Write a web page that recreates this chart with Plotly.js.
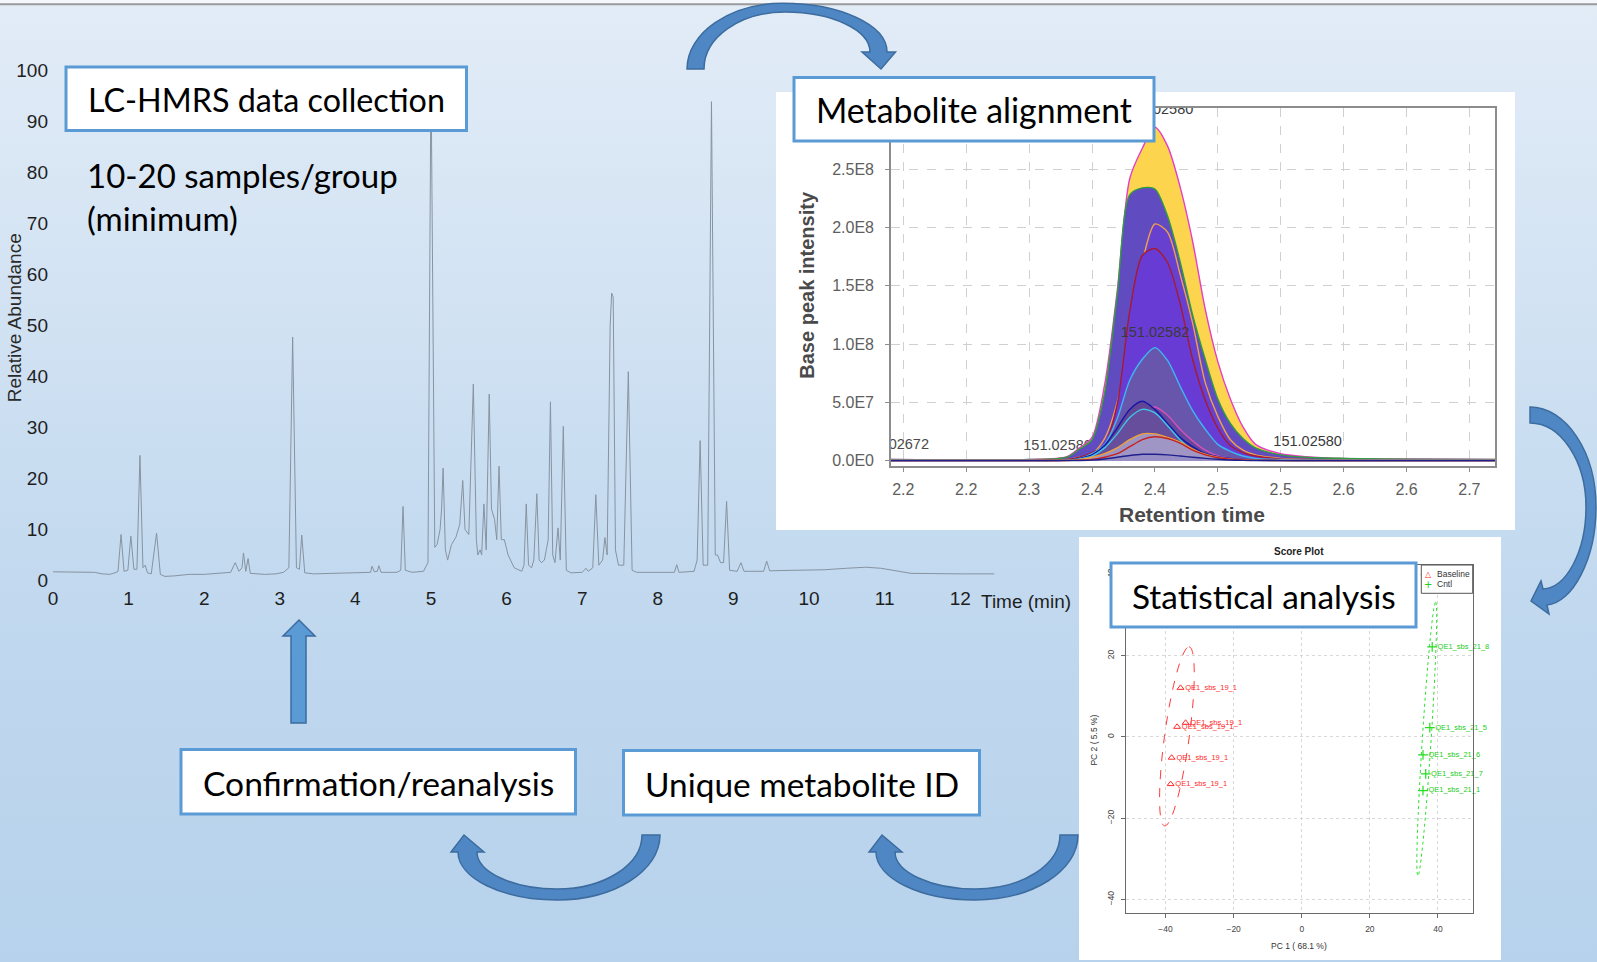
<!DOCTYPE html>
<html>
<head>
<meta charset="utf-8">
<script src="https://cdn.plot.ly/plotly-3.0.1.min.js"></script>
<style>
  html, body { margin: 0; padding: 0; overflow: hidden; }
  body { width: 1597px; height: 962px;
    background: linear-gradient(to bottom, #e2ecf7 0%, #d3e3f3 30%, #c2d9ef 60%, #b7d2ec 100%); }
  #chart { width: 1597px; height: 962px; }
</style>
</head>
<body>
<div id="chart"></div>
<script>
// ---------------- DATA ----------------
// Chromatogram (LC-HRMS total ion current)
const chromTime = [0.00,0.30,0.55,0.65,0.75,0.82,0.86,0.90,0.94,0.99,1.03,1.07,1.11,1.15,1.19,1.22,1.25,1.30,1.37,1.42,1.48,1.60,1.80,2.00,2.20,2.35,2.41,2.46,2.50,2.52,2.55,2.58,2.61,2.80,2.95,3.05,3.12,3.17,3.22,3.26,3.29,3.33,3.45,3.80,4.10,4.20,4.22,4.25,4.29,4.31,4.34,4.55,4.60,4.63,4.66,4.75,4.90,4.96,5.00,5.05,5.08,5.12,5.14,5.16,5.19,5.22,5.27,5.33,5.38,5.42,5.45,5.50,5.56,5.60,5.62,5.65,5.67,5.70,5.73,5.77,5.80,5.84,5.87,5.90,5.93,5.97,6.02,6.10,6.20,6.23,6.26,6.29,6.33,6.36,6.40,6.43,6.46,6.50,6.55,6.58,6.61,6.64,6.68,6.71,6.75,6.79,6.85,7.00,7.05,7.08,7.14,7.18,7.22,7.27,7.30,7.33,7.37,7.39,7.41,7.44,7.48,7.55,7.61,7.66,7.72,8.00,8.22,8.25,8.28,8.48,8.52,8.56,8.60,8.66,8.71,8.76,8.79,8.83,8.87,8.91,8.95,9.05,9.10,9.14,9.30,9.40,9.44,9.48,9.80,10.20,10.50,10.75,10.95,11.20,11.35,12.00,12.45];
const chromAbund = [1.7,1.6,1.6,1.3,1.2,1.5,1.8,9.0,1.8,2.0,8.7,2.2,2.2,24.5,2.5,3.0,1.5,1.3,9.3,1.2,0.8,0.9,1.2,1.2,1.5,1.6,3.5,1.8,2.5,5.4,1.8,4.3,1.4,1.2,1.3,1.6,2.5,47.7,2.5,2.2,8.9,1.5,1.3,1.4,1.5,1.6,2.8,1.7,1.8,2.9,1.6,1.6,2.0,14.5,2.0,1.6,1.8,3.5,100,6.5,7.0,10,14,22,6.0,4.0,7.0,8.5,11,19.6,10,9,38.5,8,5,6,5,15,6,36.5,14,12,8,22.4,8,8,5,2.5,1.8,3,15,3,2.5,4,17,4,3.5,4,8,35,5,3.5,10.3,4,30.2,2,1.5,1.6,2.4,1.8,2.5,16.8,3,4,8.4,5,50,56.3,55.5,6,3,3,40.9,2,1.6,1.6,1.6,3.1,1.6,1.8,4,27.4,3,3,93.8,5,5,3.5,3.5,15.5,2,1.8,3.5,1.8,1.8,1.8,3.8,1.9,2.0,2.1,2.4,2.6,2.4,1.8,1.4,1.3,1.3];
const chromTickVals = [0,1,2,3,4,5,6,7,8,9,10,11,12];
const abundTickVals = [0,10,20,30,40,50,60,70,80,90,100];

// Metabolite alignment (extracted ion peaks, m/z 151.0258)
const rtTimes = [2.19,2.30,2.33,2.34,2.35,2.36,2.37,2.38,2.39,2.40,2.41,2.42,2.43,2.44,2.45,2.46,2.47,2.48,2.50,2.52,2.55,2.60,2.6703];
const peakMagenta = [0.1e7,0.1e7,0.35e7,1.1e7,2.0e7,6.5e7,14.5e7,24.2e7,26.8e7,28.6e7,27.0e7,23.5e7,18.8e7,13.0e7,8.5e7,5.3e7,2.9e7,1.4e7,0.6e7,0.35e7,0.2e7,0.15e7,0.1e7];
const peakGreen   = [0.1e7,0.1e7,0.3e7,1.0e7,1.8e7,5.8e7,14.2e7,22.8e7,23.4e7,23.3e7,21.0e7,17.1e7,12.5e7,8.7e7,5.3e7,3.2e7,1.9e7,1.1e7,0.5e7,0.3e7,0.2e7,0.12e7,0.1e7];
const peakOrange  = [0.05e7,0.05e7,0.1e7,0.3e7,0.6e7,1.9e7,5.0e7,10.8e7,17.0e7,20.3e7,19.6e7,16.0e7,11.8e7,6.7e7,3.8e7,1.8e7,0.9e7,0.5e7,0.2e7,0.1e7,0.05e7,0.05e7,0.05e7];
const peakDarkRed = [0.05e7,0.05e7,0.1e7,0.3e7,0.7e7,1.3e7,4.8e7,12.8e7,17.6e7,18.2e7,17.0e7,13.5e7,8.7e7,5.2e7,2.8e7,1.3e7,0.7e7,0.4e7,0.15e7,0.1e7,0.05e7,0.05e7,0.05e7];
const peakCyan    = [0.02e7,0.02e7,0.05e7,0.2e7,0.6e7,1.4e7,3.6e7,6.9e7,8.7e7,9.7e7,8.6e7,6.4e7,4.3e7,2.7e7,1.4e7,0.8e7,0.4e7,0.2e7,0.1e7,0.05e7,0.02e7,0.02e7,0.02e7];
const peakMagenta2= [0.02e7,0.02e7,0.03e7,0.1e7,0.3e7,0.7e7,1.6e7,3.0e7,4.2e7,4.6e7,3.9e7,2.7e7,1.7e7,0.9e7,0.4e7,0.2e7,0.1e7,0.05e7,0.03e7,0.02e7,0.02e7,0.02e7,0.02e7];
const peakBlue    = [0.02e7,0.02e7,0.05e7,0.2e7,0.5e7,1.3e7,2.8e7,4.4e7,5.1e7,4.4e7,3.2e7,2.0e7,1.2e7,0.6e7,0.35e7,0.2e7,0.1e7,0.05e7,0.03e7,0.02e7,0.02e7,0.02e7,0.02e7];
const peakCyan2   = [0.02e7,0.02e7,0.04e7,0.15e7,0.4e7,1.1e7,2.3e7,3.7e7,4.4e7,4.1e7,3.0e7,1.8e7,0.9e7,0.4e7,0.2e7,0.1e7,0.05e7,0.03e7,0.02e7,0.02e7,0.02e7,0.02e7,0.02e7];
const peakOrange2 = [0.02e7,0.02e7,0.03e7,0.1e7,0.3e7,0.6e7,1.1e7,1.8e7,2.3e7,2.3e7,2.0e7,1.6e7,1.0e7,0.55e7,0.3e7,0.15e7,0.08e7,0.04e7,0.02e7,0.02e7,0.02e7,0.02e7,0.02e7];
const peakRed2    = [0.01e7,0.01e7,0.02e7,0.05e7,0.1e7,0.3e7,0.6e7,1.2e7,1.8e7,2.05e7,1.9e7,1.5e7,0.9e7,0.5e7,0.25e7,0.12e7,0.06e7,0.03e7,0.01e7,0.01e7,0.01e7,0.01e7,0.01e7];
const peakNavy    = [0.01e7,0.01e7,0.01e7,0.02e7,0.05e7,0.15e7,0.3e7,0.45e7,0.55e7,0.55e7,0.5e7,0.4e7,0.3e7,0.2e7,0.12e7,0.06e7,0.03e7,0.02e7,0.01e7,0.01e7,0.01e7,0.01e7,0.01e7];
const rtTickVals = [2.20,2.25,2.30,2.35,2.40,2.45,2.50,2.55,2.60,2.65];
const rtTickText = ['2.2','2.2','2.3','2.4','2.4','2.5','2.5','2.6','2.6','2.7'];
const intensityTickVals = [0,5e7,1e8,1.5e8,2e8,2.5e8];
const intensityTickText = ['0.0E0','5.0E7','1.0E8','1.5E8','2.0E8','2.5E8'];
const mzUnderText = ['151.02672','151.02580'];
const mzUnderRT   = [2.2204, 2.2954];
const mzUnderInt  = [1.29e7, 1.25e7];
const mzOverText  = ['151.02582','151.02580','151.02580'];
const mzOverRT    = [2.4001, 2.5214, 2.4033];
const mzOverInt   = [1.093e8, 1.6e7, 3.008e8];

// Score plot (PCA)
const baselinePC1 = [-35.6,-34.1,-36.6,-38.2,-38.5];
const baselinePC2 = [12.1,3.5,2.5,-5.1,-11.6];
const baselineLabels = ['QE1_sbs_19_1','QE1_sbs_19_1','QE1_sbs_19_1','QE1_sbs_19_1','QE1_sbs_19_1'];
const cntlPC1 = [38.3,37.6,35.6,36.4,35.6];
const cntlPC2 = [22.2,2.3,-4.4,-9.1,-13.2];
const cntlLabels = ['QE1_sbs_21_8','QE1_sbs_21_5','QE1_sbs_21_6','QE1_sbs_21_7','QE1_sbs_21_1'];
const pcTickX = [-40,-20,0,20,40];
const pcTickY = [-40,-20,0,20,40];
// confidence ellipses: centre and two conjugate semi-axes, in PC units
const baselineEllipse = {c:[-36.65,0.15], u:[3.55,22.05], v:[3.65,0]};
const cntlEllipse     = {c:[36.7,-0.5],  u:[2.6,33.7],   v:[1.3,0]};

// ---------------- HELPERS ----------------
const W = 1597, H = 962;
const PX = x => x / W;
const PY = y => 1 - y / H;
function pt(p) { return PX(p[0]).toFixed(5) + ',' + PY(p[1]).toFixed(5); }
function pathPx(segs) {
  return segs.map(s => s[0] + s.slice(1).map(pt).join(' ')).join(' ');
}
function ellipsePath(e) {
  const k = 0.5523, c = e.c, u = e.u, v = e.v;
  const P = (a, b) => [c[0] + a*u[0] + b*v[0], c[1] + a*u[1] + b*v[1]];
  const f = p => p[0].toFixed(3) + ',' + p[1].toFixed(3);
  return 'M' + f(P(1,0)) +
    ' C' + f(P(1,k)) + ' ' + f(P(k,1)) + ' ' + f(P(0,1)) +
    ' C' + f(P(-k,1)) + ' ' + f(P(-1,k)) + ' ' + f(P(-1,0)) +
    ' C' + f(P(-1,-k)) + ' ' + f(P(-k,-1)) + ' ' + f(P(0,-1)) +
    ' C' + f(P(k,-1)) + ' ' + f(P(1,-k)) + ' ' + f(P(1,0)) + ' Z';
}

// ---------------- TRACES ----------------
const traces = [];
traces.push({x: chromTime, y: chromAbund, xaxis:'x', yaxis:'y', mode:'lines',
  line:{color:'#8793a0', width:1}, hoverinfo:'skip'});

traces.push({x: mzUnderRT, y: mzUnderInt, text: mzUnderText, xaxis:'x2', yaxis:'y2',
  mode:'text', textposition:['middle left','middle right'], cliponaxis:true,
  textfont:{family:'Liberation Sans, Arial', size:14.5, color:'#4a4a4a'}, hoverinfo:'skip'});

const peakSeries = [
  [peakMagenta,  '#e43fc6', '#fcd44e'],
  [peakGreen,    '#2f9e3c', 'rgb(96,76,192)'],
  [peakOrange,   '#f0a04a', 'rgb(104,64,208)'],
  [peakDarkRed,  '#a51a35', 'rgb(104,60,212)'],
  [peakCyan,     '#3cb8f2', 'rgb(104,86,172)'],
  [peakMagenta2, '#d452b8', 'rgb(100,72,158)'],
  [peakBlue,     '#1616a8', 'rgb(98,70,150)'],
  [peakCyan2,    '#3ec6ea', 'rgb(102,78,156)'],
  [peakOrange2,  '#f2a236', 'rgb(158,148,196)'],
  [peakRed2,     '#c42222', 'rgb(160,150,198)'],
  [peakNavy,     '#20208c', 'rgb(150,142,196)']
];
peakSeries.forEach(s => traces.push({x: rtTimes, y: s[0], xaxis:'x2', yaxis:'y2',
  mode:'lines', fill:'tozeroy', fillcolor:s[2], line:{color:s[1], width:1.4, shape:'spline', smoothing:0.8},
  hoverinfo:'skip'}));

traces.push({x: mzOverRT, y: mzOverInt, text: mzOverText, xaxis:'x2', yaxis:'y2',
  mode:'text', textposition:'middle center', cliponaxis:true,
  textfont:{family:'Liberation Sans, Arial', size:14.5, color:'#3a3a3a'}, hoverinfo:'skip'});

traces.push({x: baselinePC1, y: baselinePC2, text: baselineLabels, xaxis:'x3', yaxis:'y3',
  mode:'markers+text', textposition:'middle right', cliponaxis:false,
  marker:{symbol:'triangle-up-open', size:6, color:'#ff2a2a', line:{width:1, color:'#ff2a2a'}},
  textfont:{family:'Liberation Sans, Arial', size:7.5, color:'#ff2a2a'}, hoverinfo:'skip'});
traces.push({x: cntlPC1, y: cntlPC2, text: cntlLabels, xaxis:'x3', yaxis:'y3',
  mode:'markers+text', textposition:'middle right', cliponaxis:false,
  marker:{symbol:'cross-thin-open', size:7, color:'#22dd22', line:{width:1.2, color:'#22dd22'}},
  textfont:{family:'Liberation Sans, Arial', size:7.5, color:'#22cc22'}, hoverinfo:'skip'});

// ---------------- SHAPES ----------------
const arrowFill = '#4f87c5', arrowLine = '#3d6c9f';
const shapes = [];
// white panels
shapes.push({type:'rect', xref:'paper', yref:'paper', layer:'below', x0:PX(776), x1:PX(1515), y0:PY(530), y1:PY(92), fillcolor:'#ffffff', line:{width:0}});
shapes.push({type:'rect', xref:'paper', yref:'paper', layer:'below', x0:PX(1079), x1:PX(1501), y0:PY(960), y1:PY(537), fillcolor:'#ffffff', line:{width:0}});
// top strip & grey rule
shapes.push({type:'rect', xref:'paper', yref:'paper', layer:'below', x0:0, x1:1, y0:PY(3), y1:1, fillcolor:'#f4f7fb', line:{width:0}});
shapes.push({type:'line', xref:'paper', yref:'paper', layer:'above', x0:0, x1:1, y0:PY(4.3), y1:PY(4.3), line:{color:'#9b9b9b', width:2}});
// ellipses
shapes.push({type:'path', xref:'x3', yref:'y3', path: ellipsePath(baselineEllipse), line:{color:'#ff3a3a', width:1, dash:'dash'}});
shapes.push({type:'path', xref:'x3', yref:'y3', path: ellipsePath(cntlEllipse), line:{color:'#2ee02e', width:1, dash:'dot'}});
// score legend
shapes.push({type:'rect', xref:'paper', yref:'paper', layer:'above', x0:PX(1421.3), x1:PX(1472.7), y0:PY(593.3), y1:PY(565), fillcolor:'#ffffff', line:{color:'#555555', width:1}});

// arrows
const arrowPaths = [
  // top curved arrow
  [['M',[687,69]],['C',[687,33],[730,3.3],[783,3.3]],['C',[840,3.3],[887,25],[887,52]],
   ['L',[895.5,52]],['L',[881,69]],['L',[862,52]],['L',[870,52]],
   ['C',[870,30],[832,12],[785,12]],['C',[740,12],[704,37.5],[704,69]],['Z']],
  // right curved arrow
  [['M',[1530,407]],['C',[1566,407],[1596,452],[1596,507]],['C',[1596,560],[1572,603],[1547,605]],
   ['L',[1549,614]],['L',[1531,601]],['L',[1541,581]],['L',[1543,589]],
   ['C',[1566,588],[1586,552],[1586,507]],['C',[1586,461],[1561,423],[1530,423]],['Z']],
  // bottom arrow 1
  [['M',[660,835]],['C',[660,871],[614,900],[557,900]],['C',[502,900],[458,878],[458,852]],
   ['L',[451,852]],['L',[464,835]],['L',[484,852]],['L',[477,852]],
   ['C',[477,872],[513,889],[557,889]],['C',[604,889],[642,865],[642,835]],['Z']],
  // bottom arrow 2
  [['M',[1078,835]],['C',[1078,871],[1032,900],[975,900]],['C',[920,900],[876,878],[876,852]],
   ['L',[869,852]],['L',[882,835]],['L',[902,852]],['L',[895,852]],
   ['C',[895,872],[931,889],[975,889]],['C',[1022,889],[1060,865],[1060,835]],['Z']],
  // straight up arrow
  [['M',[291,723]],['L',[291,636]],['L',[283,636]],['L',[299,620]],['L',[315,636]],['L',[306,636]],['L',[306,723]],['Z']]
];
arrowPaths.forEach((p, i) => shapes.push({type:'path', xref:'paper', yref:'paper', layer:'above',
  path: pathPx(p), fillcolor: i === 4 ? '#5b9bd5' : arrowFill, line:{color:arrowLine, width:1.5}}));

// text boxes
const boxes = [
  {x0:66, y0:67, x1:466.5, y1:130.4, text:'LC-HMRS data collection', size:32.3},
  {x0:794, y0:77.5, x1:1154, y1:141, text:'Metabolite alignment', size:33.8},
  {x0:1111, y0:563, x1:1416, y1:627, text:'Statistical analysis', size:33.4},
  {x0:181, y0:749.5, x1:575.5, y1:814, text:'Confirmation/reanalysis', size:33.6},
  {x0:623.5, y0:750.5, x1:979.5, y1:815, text:'Unique metabolite ID', size:33.4}
];
boxes.forEach(b => shapes.push({type:'rect', xref:'paper', yref:'paper', layer:'above',
  x0:PX(b.x0), x1:PX(b.x1), y0:PY(b.y1), y1:PY(b.y0), fillcolor:'#ffffff', line:{color:'#5b9bd5', width:3}}));

// ---------------- ANNOTATIONS ----------------
const ann = [];
function A(x, y, text, opts) {
  ann.push(Object.assign({xref:'paper', yref:'paper', x:PX(x), y:PY(y), text:text, showarrow:false,
    xanchor:'center', yanchor:'middle'}, opts || {}));
}
const boxFont = s => ({family:'Lato, Carlito, Open Sans', size:s, color:'#000000'});
boxes.forEach(b => A((b.x0+b.x1)/2, (b.y0+b.y1)/2 + 1, b.text, {font: boxFont(b.size)}));
A(84.5, 175, '10-20 samples/group', {xanchor:'left', font: boxFont(33)});
A(84.5, 218, '(minimum)', {xanchor:'left', font: boxFont(33)});
A(14.3, 318, 'Relative Abundance', {textangle:-90, font:{family:'Liberation Sans, Arial', size:19, color:'#2a2a2a'}});
A(1026, 601, 'Time (min)', {font:{family:'Liberation Sans, Arial', size:19, color:'#1e1e1e'}});
A(806.7, 285, 'Base peak intensity', {textangle:-90, font:{family:'Liberation Sans, Arial', size:20, color:'#4a4a4a', weight:'bold'}});
A(1191.6, 514, 'Retention time', {font:{family:'Liberation Sans, Arial', size:21, color:'#4a4a4a', weight:'bold'}});
A(1299, 551.7, '<b>Score Plot</b>', {font:{family:'Liberation Sans, Arial', size:10, color:'#222'}});
A(1299, 946, 'PC 1 ( 68.1 %)', {font:{family:'Liberation Sans, Arial', size:8.5, color:'#333'}});
A(1093.6, 740, 'PC 2 ( 5.5 %)', {textangle:-90, font:{family:'Liberation Sans, Arial', size:8.5, color:'#333'}});
A(1428.2, 574.3, '△', {font:{family:'DejaVu Sans', size:8, color:'#ff2a2a'}});
A(1435, 574.3, 'Baseline', {xanchor:'left', font:{family:'Liberation Sans, Arial', size:8.5, color:'#333'}});
A(1428.2, 584.3, '+', {font:{family:'DejaVu Sans', size:10, color:'#22cc22'}});
A(1435, 584.3, 'Cntl', {xanchor:'left', font:{family:'Liberation Sans, Arial', size:8.5, color:'#333'}});

// ---------------- LAYOUT ----------------
const chromFont = {family:'Liberation Sans, Arial', size:19, color:'#1e1e1e'};
const alignFont = {family:'Liberation Sans, Arial', size:16, color:'#5e5e5e'};
const pcaFont = {family:'Liberation Sans, Arial', size:8.5, color:'#444'};
const layout = {
  width: W, height: H, margin:{l:0, r:0, t:0, b:0, pad:0},
  paper_bgcolor:'rgba(0,0,0,0)', plot_bgcolor:'rgba(0,0,0,0)',
  showlegend:false,
  font:{family:'Liberation Sans, Arial'},
  xaxis:{domain:[PX(53), PX(998)], range:[0,12.5], anchor:'y', tickvals: chromTickVals,
    showgrid:false, zeroline:false, showline:false, ticks:'', tickfont: chromFont, ticklabelstandoff:4},
  yaxis:{domain:[PY(580.5), PY(70)], range:[0,100], anchor:'x', tickvals: abundTickVals,
    showgrid:false, zeroline:false, showline:false, ticks:'', tickfont: chromFont, ticklabelstandoff:4},
  xaxis2:{domain:[PX(890.7), PX(1495)], range:[2.18998, 2.67035], anchor:'y2',
    tickvals: rtTickVals, ticktext: rtTickText, showgrid:true, gridcolor:'#d0d0d0', griddash:'dash', gridwidth:1,
    zeroline:false, showline:true, mirror:true, linecolor:'#8c8c8c', linewidth:1.5,
    ticks:'outside', ticklen:4, tickcolor:'#8c8c8c', tickfont: alignFont, ticklabelstandoff:4},
  yaxis2:{domain:[PY(466), PY(107.7)], range:[-4.545e6, 3.0274e8], anchor:'x2',
    tickvals: intensityTickVals, ticktext: intensityTickText, showgrid:true, gridcolor:'#d0d0d0', griddash:'dash', gridwidth:1,
    zeroline:false, showline:true, mirror:true, linecolor:'#8c8c8c', linewidth:1.5,
    ticks:'outside', ticklen:4, tickcolor:'#8c8c8c', tickfont: alignFont, ticklabelstandoff:8},
  xaxis3:{domain:[PX(1126), PX(1473)], range:[-51.6, 50.28], anchor:'y3', tickvals: pcTickX,
    showgrid:true, gridcolor:'#d8d8d8', griddash:'dot', zeroline:false, showline:true, mirror:true,
    linecolor:'#6a6a6a', linewidth:1, ticks:'outside', ticklen:4, tickcolor:'#6a6a6a', tickfont: pcaFont, ticklabelstandoff:4},
  yaxis3:{domain:[PY(913), PY(565)], range:[-43.35, 42.36], anchor:'x3', tickvals: pcTickY, tickangle:-90,
    showgrid:true, gridcolor:'#d8d8d8', griddash:'dot', zeroline:false, showline:true, mirror:true,
    linecolor:'#6a6a6a', linewidth:1, ticks:'outside', ticklen:4, tickcolor:'#6a6a6a', tickfont: pcaFont, ticklabelstandoff:4},
  shapes: shapes,
  annotations: ann
};
Plotly.newPlot('chart', traces, layout, {displayModeBar:false, staticPlot:true});
</script>
</body>
</html>
